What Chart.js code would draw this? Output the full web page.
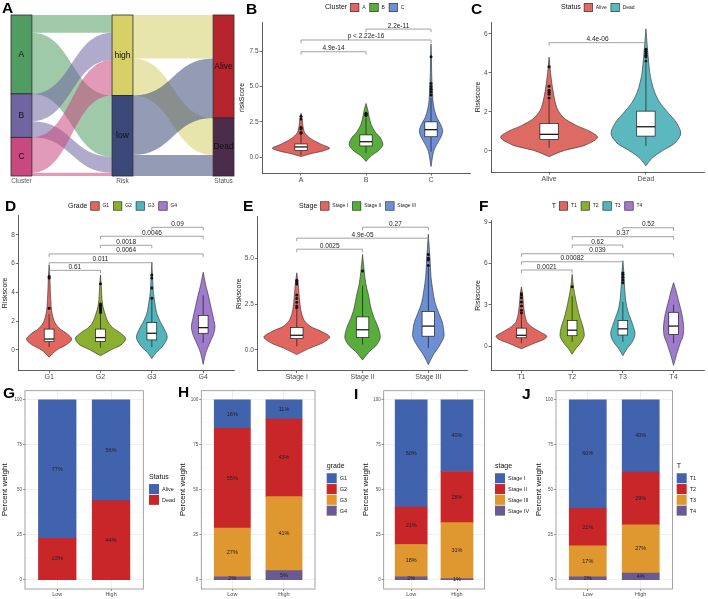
<!DOCTYPE html>
<html>
<head>
<meta charset="utf-8">
<title>Risk score panels</title>
<script src="https://cdn.jsdelivr.net/npm/chart.js@4.4.1/dist/chart.umd.min.js"></script>
<style>
  body { margin: 0; background: #fff; }
  #fig { position: relative; width: 708px; height: 599px; overflow: hidden; background: #fff; }
  #fig canvas { position: absolute; }
  .tag { position: absolute; font: bold 15.5px "Liberation Sans", Arial, sans-serif; line-height: 1; color: #000; z-index: 5; }
</style>
</head>
<body>
<div id="fig">
  <div class="tag" style="left:2px;top:0px">A</div>
  <div class="tag" style="left:246px;top:1px">B</div>
  <div class="tag" style="left:471px;top:1px">C</div>
  <div class="tag" style="left:5px;top:198px">D</div>
  <div class="tag" style="left:243px;top:198px">E</div>
  <div class="tag" style="left:479px;top:198px">F</div>
  <div class="tag" style="left:3px;top:385px">G</div>
  <div class="tag" style="left:178px;top:384px">H</div>
  <div class="tag" style="left:354px;top:386px">I</div>
  <div class="tag" style="left:522px;top:386px">J</div>
</div>
<script>
const FONT = '"Liberation Sans", Arial, sans-serif';
Chart.defaults.font.family = FONT;

// ---- A: alluvial (values in % of patients) ----
const stageNames = ['Cluster', 'Risk', 'Status'];
const clusterNames = ['A', 'B', 'C'];
const riskNames = ['high', 'low'];
const statusNames = ['Alive', 'Dead'];
const clusterToRisk = [[11, 38], [17, 10], [22, 2]];
const riskToStatus = [[27, 23], [37, 13]];
const clusterColors = ['#519c63', '#7065a0', '#c8487f'];
const riskColors = ['#d6d067', '#3b4878'];
const statusColors = ['#b6242d', '#4b2c4b'];

// ---- B: riskScore by cluster ----
const bCats = ['A', 'B', 'C'];
const bColors = ['#e0645f', '#58ad3b', '#6c8fd6'];
const bViolinY = [
  [0.05, 0.25, 0.45, 0.64, 0.9, 1.2, 1.5, 1.8, 2.2, 2.6, 3.1],
  [-0.3, 0.1, 0.5, 0.9, 1.3, 1.8, 2.3, 2.8, 3.3, 3.8],
  [-0.66, -0.2, 0.4, 1.0, 1.5, 1.85, 2.3, 2.8, 3.4, 4.0, 5.0, 6.0, 7.0, 8.0]
];
const bViolinW = [
  [0, 0.15, 0.34, 0.44, 0.32, 0.19, 0.1, 0.05, 0.03, 0.02, 0],
  [0, 0.08, 0.2, 0.26, 0.23, 0.14, 0.08, 0.05, 0.03, 0],
  [0, 0.015, 0.04, 0.1, 0.16, 0.18, 0.15, 0.09, 0.05, 0.03, 0.018, 0.01, 0.007, 0]
];
const bBoxes = [[0.15, 0.47, 0.73, 0.94, 1.6], [0.3, 0.8, 1.1, 1.58, 2.8], [0.4, 1.45, 1.95, 2.5, 4.2]];
const bOutliers = [[1.7, 1.75, 2.0, 2.1, 2.7, 2.9], [2.95, 3.0, 3.05, 3.1], [4.4, 4.6, 4.8, 5.0, 5.2, 7.1]];
const bPairs = [[1, 2], [1, 3], [2, 3]];
const bPvals = ['4.9e-14', 'p < 2.22e-16', '2.2e-11'];
const bLevels = [7.45, 8.28, 9.05];
const bTicks = [0, 2.5, 5, 7.5];

// ---- C: Riskscore by status ----
const cCats = ['Alive', 'Dead'];
const cColors = ['#dd6a63', '#5cb8bf'];
const cViolinY = [
  [-0.3, 0.0, 0.3, 0.7, 1.0, 1.3, 1.7, 2.2, 2.8, 3.4, 4.0, 4.8],
  [-0.77, -0.4, 0, 0.4, 0.9, 1.4, 2.0, 2.5, 3.0, 3.5, 4.0, 5.0, 6.25]
];
const cViolinW = [
  [0, 0.15, 0.38, 0.5, 0.42, 0.28, 0.15, 0.08, 0.05, 0.03, 0.015, 0],
  [0, 0.06, 0.17, 0.3, 0.36, 0.32, 0.22, 0.14, 0.09, 0.06, 0.04, 0.02, 0]
];
const cBoxes = [[0.15, 0.58, 0.84, 1.4, 2.6], [0.25, 0.75, 1.23, 2.03, 4.5]];
const cOutliers = [[2.7, 2.9, 3.0, 3.1, 3.3, 4.3], [4.6, 4.8, 4.9, 5.0, 5.1, 5.2]];
const cPairs = [[1, 2]];
const cPvals = ['4.4e-06'];
const cLevels = [5.54];
const cTicks = [0, 2, 4, 6];

// ---- D: Riskscore by grade ----
const dCats = ['G1', 'G2', 'G3', 'G4'];
const dColors = ['#e0665f', '#8baf2f', '#52b5bd', '#a07bcd'];
const dViolinY = [
  [-0.5, 0, 0.4, 0.75, 1.1, 1.5, 2, 2.5, 3, 4, 5, 5.9],
  [-0.4, 0, 0.4, 0.8, 1.2, 1.6, 2.0, 2.5, 3.0, 3.5, 4.5, 5.2],
  [-0.6, -0.2, 0.3, 0.9, 1.4, 2, 2.5, 3, 3.5, 4, 5, 6.1],
  [-1.0, -0.2, 0.5, 1.2, 1.6, 2.2, 3, 3.8, 4.5, 5.4]
];
const dViolinW = [
  [0, 0.15, 0.35, 0.44, 0.36, 0.2, 0.1, 0.06, 0.04, 0.025, 0.015, 0],
  [0, 0.2, 0.42, 0.49, 0.38, 0.22, 0.14, 0.09, 0.05, 0.03, 0.015, 0],
  [0, 0.08, 0.22, 0.3, 0.25, 0.16, 0.1, 0.07, 0.05, 0.03, 0.015, 0],
  [0, 0.05, 0.13, 0.21, 0.23, 0.2, 0.15, 0.1, 0.05, 0]
];
const dBoxes = [[0.2, 0.58, 0.76, 1.45, 2.5], [0.15, 0.6, 0.86, 1.45, 2.5], [0.2, 0.7, 1.16, 1.9, 3.5], [0.5, 1.16, 1.55, 2.4, 3.8]];
const dOutliers = [[2.9, 5.0, 5.1], [2.6, 2.7, 2.8, 2.9, 3.0, 3.1, 3.2, 4.6], [3.6, 4.3, 5.0, 5.2], []];
const dPairs = [[1, 2], [1, 3], [1, 4], [2, 3], [2, 4], [3, 4]];
const dPvals = ['0.61', '0.011', '0.0064', '0.0018', '0.0046', '0.09'];
const dLevels = [5.53, 6.06, 6.67, 7.27, 7.9, 8.52];
const dTicks = [0, 2, 4, 6, 8];

// ---- E: Riskscore by stage ----
const eCats = ['Stage I', 'Stage II', 'Stage III'];
const eColors = ['#e0665f', '#58ad3b', '#6c8fd6'];
const eViolinY = [
  [-0.25, 0.1, 0.4, 0.7, 1.0, 1.3, 1.7, 2.2, 2.8, 3.5, 4.2],
  [-0.55, -0.1, 0.3, 0.7, 1.2, 1.8, 2.4, 3.0, 3.6, 4.3, 5.2],
  [-0.8, -0.3, 0.3, 0.8, 1.4, 2.0, 2.6, 3.2, 4, 5, 6.3]
];
const eViolinW = [
  [0, 0.2, 0.4, 0.5, 0.38, 0.2, 0.1, 0.06, 0.04, 0.025, 0],
  [0, 0.1, 0.22, 0.27, 0.24, 0.17, 0.12, 0.09, 0.05, 0.025, 0],
  [0, 0.07, 0.18, 0.24, 0.22, 0.16, 0.1, 0.07, 0.04, 0.025, 0]
];
const eBoxes = [[0.2, 0.62, 0.8, 1.22, 2.2], [0.3, 0.68, 1.1, 1.8, 3.5], [0.1, 0.75, 1.3, 2.1, 4.5]];
const eOutliers = [[2.3, 2.4, 2.6, 2.8, 3.0, 3.6, 3.7, 3.8], [4.3], [4.6, 4.9, 5.0, 5.2]];
const ePairs = [[1, 2], [1, 3], [2, 3]];
const ePvals = ['0.0025', '4.9e-05', '0.27'];
const eLevels = [5.49, 6.09, 6.69];
const eTicks = [0, 2.5, 5];

// ---- F: Riskscore by T ----
const fCats = ['T1', 'T2', 'T3', 'T4'];
const fColors = ['#e0665f', '#8baf2f', '#52b5bd', '#a07bcd'];
const fViolinY = [
  [-0.2, 0.2, 0.5, 0.7, 1.0, 1.4, 1.8, 2.4, 3.0, 3.7, 4.3],
  [-0.6, -0.2, 0.3, 0.8, 1.3, 2, 2.7, 3.4, 4.2, 5.2],
  [-0.7, -0.2, 0.4, 0.9, 1.5, 2.2, 2.8, 3.5, 4.5, 5.3, 6.2],
  [-1.4, -0.6, 0.2, 0.8, 1.3, 2, 2.7, 3.4, 4.0, 4.6]
];
const fViolinW = [
  [0, 0.25, 0.45, 0.5, 0.38, 0.2, 0.1, 0.06, 0.04, 0.025, 0],
  [0, 0.07, 0.18, 0.24, 0.22, 0.16, 0.11, 0.07, 0.03, 0],
  [0, 0.08, 0.2, 0.24, 0.2, 0.13, 0.08, 0.05, 0.03, 0.02, 0],
  [0, 0.06, 0.13, 0.19, 0.2, 0.18, 0.14, 0.09, 0.05, 0]
];
const fBoxes = [[0.2, 0.6, 0.78, 1.3, 2.3], [0.3, 0.75, 1.15, 1.85, 3.6], [0.3, 0.8, 1.25, 1.85, 3.2], [0.2, 0.85, 1.45, 2.45, 3.0]];
const fOutliers = [[2.4, 2.6, 2.9, 3.2, 3.5, 3.7, 3.8], [4.3], [4.6, 4.8, 5.0, 5.2, 5.3], []];
const fPairs = [[1, 2], [1, 3], [1, 4], [2, 3], [2, 4], [3, 4]];
const fPvals = ['0.0021', '0.00082', '0.039', '0.62', '0.37', '0.52'];
const fLevels = [5.52, 6.12, 6.7, 7.33, 7.94, 8.59];
const fTicks = [0, 3, 6, 9];

// ---- G-J: percent stacked bars, series listed top to bottom, values [Low, High] ----
const riskGroups = ['Low', 'High'];
const gNames = ['Alive', 'Dead'];
const gPct = [[76.9, 56.0], [23.1, 44.0]];
const hNames = ['G1', 'G2', 'G3', 'G4'];
const hPct = [[15.9, 10.7], [55.3, 43.1], [27.0, 41.0], [1.8, 5.2]];
const iNames = ['Stage I', 'Stage II', 'Stage III', 'Stage IV'];
const iPct = [[59.5, 39.8], [20.8, 28.4], [17.9, 31.0], [1.8, 0.8]];
const jNames = ['T1', 'T2', 'T3', 'T4'];
const jPct = [[60.2, 40.2], [20.9, 29.2], [17.1, 26.8], [1.8, 3.8]];
const pctTicks = [0, 25, 50, 75, 100];
const pctMinor = [12.5, 37.5, 62.5, 87.5];
const stackColors = ['#4163ae', '#c9262a', '#df972f', '#6a5a92'];

const fig = document.getElementById('fig');

function addCanvas(l, t, w, h) {
  const c = document.createElement('canvas');
  c.width = w; c.height = h;
  c.style.left = l + 'px'; c.style.top = t + 'px';
  c.style.width = w + 'px'; c.style.height = h + 'px';
  fig.appendChild(c);
  return c;
}

function hexA(hex, a) {
  const n = parseInt(hex.slice(1), 16);
  return `rgba(${n >> 16},${(n >> 8) & 255},${n & 255},${a})`;
}

const baseOpts = { responsive: false, animation: false, devicePixelRatio: 1, events: [] };
const noPlugins = { legend: { display: false }, tooltip: { enabled: false } };

// ---------- A ----------
const HW = 0.1034; // stratum half width in axis units

const alluvialPlugin = {
  id: 'alluvial',
  beforeDatasetsDraw(chart) {
    const { ctx, scales: { x, y } } = chart;
    const Y = v => y.getPixelForValue(100 - v);
    const rowSums = m => m.map(r => r.reduce((a, b) => a + b, 0));
    const colSums = m => m[0].map((_, j) => m.reduce((a, r) => a + r[j], 0));
    const starts = arr => { let acc = 0; return arr.map(v => { const s = acc; acc += v; return s; }); };
    const strata = [rowSums(clusterToRisk), colSums(clusterToRisk), colSums(riskToStatus)];
    const names = [clusterNames, riskNames, statusNames];
    const cols = [clusterColors, riskColors, statusColors];
    ctx.save();
    [clusterToRisk, riskToStatus].forEach((m, xi) => {
      const sOff = starts(strata[xi]), tOff = starts(strata[xi + 1]);
      const x0 = x.getPixelForValue(xi + HW), x1 = x.getPixelForValue(xi + 1 - HW), xm = (x0 + x1) / 2;
      m.forEach((row, s) => row.forEach((v, t) => {
        if (!v) return;
        const a0 = sOff[s], b0 = tOff[t];
        sOff[s] += v; tOff[t] += v;
        const a1 = sOff[s], b1 = tOff[t];
        ctx.beginPath();
        ctx.moveTo(x0, Y(a0));
        ctx.bezierCurveTo(xm, Y(a0), xm, Y(b0), x1, Y(b0));
        ctx.lineTo(x1, Y(b1));
        ctx.bezierCurveTo(xm, Y(b1), xm, Y(a1), x0, Y(a1));
        ctx.closePath();
        ctx.fillStyle = hexA(cols[xi][s], 0.55);
        ctx.fill();
      }));
    });
    ctx.font = '8.5px ' + FONT;
    ctx.textAlign = 'center';
    ctx.textBaseline = 'middle';
    strata.forEach((tot, xi) => {
      let acc = 0;
      const l = x.getPixelForValue(xi - HW), r = x.getPixelForValue(xi + HW);
      tot.forEach((v, k) => {
        const t = Y(acc), b = Y(acc + v);
        ctx.fillStyle = cols[xi][k];
        ctx.fillRect(l, t, r - l, b - t);
        ctx.strokeStyle = '#2b2b2b';
        ctx.lineWidth = 0.8;
        ctx.strokeRect(l, t, r - l, b - t);
        ctx.fillStyle = '#111';
        ctx.fillText(names[xi][k], (l + r) / 2, (t + b) / 2);
        acc += v;
      });
    });
    ctx.restore();
  }
};

new Chart(addCanvas(0, 0, 238, 195), {
  type: 'scatter',
  data: { datasets: [] },
  options: {
    ...baseOpts,
    layout: { padding: { left: 11, top: 15, right: 4, bottom: 0 } },
    plugins: noPlugins,
    scales: {
      x: {
        type: 'linear', min: -HW, max: 2 + HW,
        afterBuildTicks: s => { s.ticks = stageNames.map((n, i) => ({ value: i })); },
        afterFit: s => { s.height = 19; },
        ticks: { callback: v => stageNames[Math.round(v)], font: { size: 6.5 }, color: '#555', padding: 1, maxRotation: 0, autoSkip: false },
        grid: { display: false, drawTicks: false, tickLength: 0 }, border: { display: false }
      },
      y: { display: false, min: 0, max: 100 }
    }
  },
  plugins: [alluvialPlugin]
});

// ---------- violins B-F ----------
function violinPath(ctx, ys, ws, X, Y) {
  const n = ys.length, d = [], m = [];
  for (let k = 0; k < n - 1; k++) d.push((ws[k + 1] - ws[k]) / (ys[k + 1] - ys[k]));
  for (let k = 0; k < n; k++) {
    if (k === 0) m.push(d[0]);
    else if (k === n - 1) m.push(d[n - 2]);
    else m.push(d[k - 1] * d[k] <= 0 ? 0 : 2 / (1 / d[k - 1] + 1 / d[k]));
  }
  ctx.beginPath();
  ctx.moveTo(X(ws[0]), Y(ys[0]));
  for (let k = 0; k < n - 1; k++) {
    const h = (ys[k + 1] - ys[k]) / 3;
    ctx.bezierCurveTo(X(ws[k] + m[k] * h), Y(ys[k] + h), X(ws[k + 1] - m[k + 1] * h), Y(ys[k + 1] - h), X(ws[k + 1]), Y(ys[k + 1]));
  }
  for (let k = n - 1; k > 0; k--) {
    const h = (ys[k] - ys[k - 1]) / 3;
    ctx.bezierCurveTo(X(-(ws[k] - m[k] * h)), Y(ys[k] - h), X(-(ws[k - 1] + m[k - 1] * h)), Y(ys[k - 1] + h), X(-ws[k - 1]), Y(ys[k - 1]));
  }
  ctx.closePath();
}

function drawTopLegend(ctx, title, names, colors, x0, yc) {
  ctx.save();
  ctx.textBaseline = 'middle';
  ctx.textAlign = 'left';
  ctx.fillStyle = '#111';
  ctx.font = '7px ' + FONT;
  ctx.fillText(title, x0, yc);
  let x = x0 + ctx.measureText(title).width + 3;
  ctx.font = '5px ' + FONT;
  names.forEach((nm, k) => {
    ctx.fillStyle = colors[k];
    ctx.fillRect(x, yc - 4.5, 9, 9);
    ctx.strokeStyle = '#333';
    ctx.lineWidth = 0.6;
    ctx.strokeRect(x + 0.3, yc - 4.2, 8.4, 8.4);
    ctx.fillStyle = '#222';
    ctx.fillText(nm, x + 12, yc);
    x += 12 + ctx.measureText(nm).width + 4;
  });
  ctx.restore();
}

function violinPlugin(o) {
  return {
    id: 'violins',
    beforeDatasetsDraw(chart) {
      const { ctx, scales: { x, y } } = chart;
      const unit = x.getPixelForValue(2) - x.getPixelForValue(1);
      const Y = v => y.getPixelForValue(v);
      ctx.save();
      o.vy.forEach((ys, i) => {
        const cx = x.getPixelForValue(i + 1);
        violinPath(ctx, ys, o.vw[i], w => cx + w * unit, Y);
        ctx.fillStyle = o.colors[i];
        ctx.fill();
        ctx.strokeStyle = '#2a2a2a';
        ctx.lineWidth = 0.6;
        ctx.stroke();
        const [lo, q1, md, q3, hi] = o.boxes[i];
        const bw = 0.095 * unit;
        ctx.strokeStyle = '#1a1a1a';
        ctx.lineWidth = 0.7;
        ctx.beginPath();
        ctx.moveTo(cx, Y(lo)); ctx.lineTo(cx, Y(q1));
        ctx.moveTo(cx, Y(q3)); ctx.lineTo(cx, Y(hi));
        ctx.stroke();
        ctx.fillStyle = '#fff';
        ctx.fillRect(cx - bw, Y(q3), 2 * bw, Y(q1) - Y(q3));
        ctx.strokeRect(cx - bw, Y(q3), 2 * bw, Y(q1) - Y(q3));
        ctx.lineWidth = 1.3;
        ctx.beginPath();
        ctx.moveTo(cx - bw, Y(md)); ctx.lineTo(cx + bw, Y(md));
        ctx.stroke();
      });
      ctx.restore();
    },
    afterDraw(chart) {
      const { ctx, scales: { x, y } } = chart;
      ctx.save();
      o.pairs.forEach(([a, b], k) => {
        const x1 = x.getPixelForValue(a), x2 = x.getPixelForValue(b), yp = y.getPixelForValue(o.levels[k]);
        ctx.beginPath();
        ctx.moveTo(x1, yp + 3); ctx.lineTo(x1, yp); ctx.lineTo(x2, yp); ctx.lineTo(x2, yp + 3);
        ctx.strokeStyle = '#8a8a8a';
        ctx.lineWidth = 0.8;
        ctx.stroke();
        ctx.fillStyle = '#222';
        ctx.font = '6.5px ' + FONT;
        ctx.textAlign = 'center';
        ctx.textBaseline = 'alphabetic';
        ctx.fillText(o.pvals[k], (x1 + x2) / 2, yp - 1.5);
      });
      ctx.restore();
      drawTopLegend(ctx, o.legTitle, o.cats, o.colors, o.legX - o.box[0], o.legY - o.box[1]);
    }
  };
}

function violinChart(o) {
  const [L, T, W, H] = o.box;
  const n = o.cats.length;
  new Chart(addCanvas(L, T, W, H), {
    type: 'scatter',
    data: {
      datasets: o.outliers.map((arr, i) => ({
        data: arr.map(v => ({ x: i + 1, y: v })),
        pointRadius: 1.5, pointBackgroundColor: '#111', pointBorderWidth: 0
      }))
    },
    options: {
      ...baseOpts,
      layout: { padding: { left: 0, top: o.padT, right: o.padR, bottom: 0 } },
      plugins: noPlugins,
      scales: {
        x: {
          type: 'linear', min: 0.4, max: n + 0.6,
          afterBuildTicks: s => { s.ticks = o.cats.map((c, i) => ({ value: i + 1 })); },
          afterFit: s => { s.height = o.xh; },
          ticks: { callback: v => o.cats[Math.round(v) - 1], font: { size: 7 }, color: '#4d4d4d', padding: 0, maxRotation: 0, autoSkip: false },
          grid: { drawOnChartArea: false, tickLength: 2.5, color: '#333', lineWidth: 0.7 },
          border: { color: '#333', width: 0.8 }
        },
        y: {
          min: o.ymin, max: o.ymax,
          afterBuildTicks: s => { s.ticks = o.yticks.map(v => ({ value: v })); },
          afterFit: s => { s.width = o.yw; },
          ticks: { callback: o.yfmt, font: { size: 6.5 }, color: '#4d4d4d', padding: 1, autoSkip: false },
          grid: { drawOnChartArea: false, tickLength: 2.5, color: '#333', lineWidth: 0.7 },
          border: { color: '#333', width: 0.8 },
          title: { display: true, text: o.ytitle, font: { size: 7 }, color: '#111', padding: 0 }
        }
      }
    },
    plugins: [violinPlugin(o)]
  });
}

const fmt1 = v => v.toFixed(1);
const fmt0 = v => String(v);

violinChart({ box: [238, 0, 236, 195], padT: 22, padR: 2.4, yw: 24, xh: 22, ymin: -1.11, ymax: 9.55,
  yticks: bTicks, yfmt: fmt1, ytitle: 'riskScore', cats: bCats, colors: bColors, vy: bViolinY, vw: bViolinW,
  boxes: bBoxes, outliers: bOutliers, pairs: bPairs, pvals: bPvals, levels: bLevels, legTitle: 'Cluster', legX: 325, legY: 7.5 });
violinChart({ box: [474, 0, 234, 195], padT: 22, padR: 1.7, yw: 17, xh: 23, ymin: -1.09, ymax: 6.6,
  yticks: cTicks, yfmt: fmt0, ytitle: 'Riskscore', cats: cCats, colors: cColors, vy: cViolinY, vw: cViolinW,
  boxes: cBoxes, outliers: cOutliers, pairs: cPairs, pvals: cPvals, levels: cLevels, legTitle: 'Status', legX: 561, legY: 7.5 });
violinChart({ box: [1, 195, 237, 195], padT: 20, padR: 4, yw: 17.3, xh: 19.3, ymin: -1.44, ymax: 9.375,
  yticks: dTicks, yfmt: fmt0, ytitle: 'Riskscore', cats: dCats, colors: dColors, vy: dViolinY, vw: dViolinW,
  boxes: dBoxes, outliers: dOutliers, pairs: dPairs, pvals: dPvals, levels: dLevels, legTitle: 'Grade', legX: 68, legY: 206 });
violinChart({ box: [235, 195, 239, 195], padT: 21.7, padR: 6.2, yw: 22.3, xh: 19.3, ymin: -1.13, ymax: 7.26,
  yticks: eTicks, yfmt: fmt1, ytitle: 'Riskscore', cats: eCats, colors: eColors, vy: eViolinY, vw: eViolinW,
  boxes: eBoxes, outliers: eOutliers, pairs: ePairs, pvals: ePvals, levels: eLevels, legTitle: 'Stage', legX: 299, legY: 206 });
violinChart({ box: [474, 195, 234, 195], padT: 25, padR: 2, yw: 17, xh: 19.3, ymin: -1.79, ymax: 9.15,
  yticks: fTicks, yfmt: fmt0, ytitle: 'Riskscore', cats: fCats, colors: fColors, vy: fViolinY, vw: fViolinW,
  boxes: fBoxes, outliers: fOutliers, pairs: fPairs, pvals: fPvals, levels: fLevels, legTitle: 'T', legX: 551.7, legY: 206 });

// ---------- stacked bars G-J ----------
function stackPlugin(o) {
  return {
    id: 'stackDecor',
    afterDatasetsDraw(chart) {
      const { ctx } = chart;
      ctx.save();
      ctx.font = '5.5px ' + FONT;
      ctx.fillStyle = '#222';
      ctx.textAlign = 'center';
      ctx.textBaseline = 'middle';
      chart.data.datasets.forEach((ds, di) => {
        chart.getDatasetMeta(di).data.forEach((el, i) => {
          ctx.fillText(Math.round(ds.data[i].y) + '%', el.x, (el.y + el.base) / 2);
        });
      });
      ctx.restore();
    },
    afterDraw(chart) {
      const { ctx, chartArea: a } = chart;
      ctx.save();
      ctx.strokeStyle = '#8c8c8c';
      ctx.lineWidth = 0.8;
      ctx.strokeRect(a.left, a.top, a.right - a.left, a.bottom - a.top);
      const step = 10.8;
      const yc = (a.top + a.bottom) / 2;
      const top = yc - o.names.length * step / 2 + 5;
      const x0 = o.legX - o.box[0];
      ctx.textBaseline = 'middle';
      ctx.textAlign = 'left';
      ctx.fillStyle = '#111';
      ctx.font = '7px ' + FONT;
      ctx.fillText(o.legTitle, x0, top - 7);
      ctx.font = '5.5px ' + FONT;
      o.names.forEach((nm, k) => {
        const yy = top + k * step;
        ctx.fillStyle = stackColors[k];
        ctx.fillRect(x0, yy, 10, step - 0.8);
        ctx.fillStyle = '#222';
        ctx.fillText(nm, x0 + 13, yy + step / 2);
      });
      ctx.restore();
    }
  };
}

function stackChart(o) {
  const [L, T, W, H] = o.box;
  const plotW = W - o.yw - o.padR;
  const barW = plotW / 2.2 * 0.7;
  const order = o.names.map((_, k) => k).reverse();
  const yGrid = pctTicks.concat(pctMinor);
  new Chart(addCanvas(L, T, W, H), {
    type: 'bar',
    data: {
      datasets: order.map(k => ({
        label: o.names[k],
        data: o.pct[k].map((v, i) => ({ x: i + 1, y: v })),
        backgroundColor: stackColors[k],
        borderWidth: 0,
        barThickness: barW
      }))
    },
    options: {
      ...baseOpts,
      layout: { padding: { left: 0, top: 4.7, right: o.padR, bottom: 0 } },
      plugins: noPlugins,
      scales: {
        x: {
          type: 'linear', stacked: true, min: 0.4, max: 2.6, offset: false,
          afterBuildTicks: s => { s.ticks = riskGroups.map((g, i) => ({ value: i + 1 })); },
          afterFit: s => { s.height = 10; },
          ticks: { callback: v => riskGroups[Math.round(v) - 1], font: { size: 5.5 }, color: '#4d4d4d', padding: 0, maxRotation: 0, autoSkip: false },
          grid: { offset: false, color: '#ebebeb', lineWidth: 0.8, tickLength: 2, tickColor: '#444', tickWidth: 0.6 },
          border: { display: false }
        },
        y: {
          stacked: true, min: -5, max: 105,
          afterBuildTicks: s => { s.ticks = yGrid.map(v => ({ value: v })); },
          afterFit: s => { s.width = o.yw; },
          ticks: { callback: v => pctTicks.includes(v) ? String(v) : '', font: { size: 4.5 }, color: '#4d4d4d', padding: 1, autoSkip: false },
          grid: {
            color: c => pctTicks.includes(c.tick.value) ? '#ebebeb' : '#f5f5f5',
            lineWidth: c => pctTicks.includes(c.tick.value) ? 0.8 : 0.5,
            tickLength: 2,
            tickColor: c => pctTicks.includes(c.tick.value) ? '#444' : 'rgba(0,0,0,0)',
            tickWidth: 0.6
          },
          border: { display: false },
          title: { display: true, text: 'Percent weight', font: { size: 8 }, color: '#111', padding: 0 }
        }
      }
    },
    plugins: [stackPlugin(o)]
  });
}

stackChart({ box: [0, 386, 178, 213], yw: 25, padR: 34.7, names: gNames, pct: gPct, legTitle: 'Status', legX: 149 });
stackChart({ box: [178, 386, 183, 213], yw: 23.3, padR: 46, names: hNames, pct: hPct, legTitle: 'grade', legX: 326.7 });
stackChart({ box: [361, 386, 173, 213], yw: 22.7, padR: 49.5, names: iNames, pct: iPct, legTitle: 'stage', legX: 495 });
stackChart({ box: [534, 386, 174, 213], yw: 22, padR: 35.5, names: jNames, pct: jPct, legTitle: 'T', legX: 676.7 });
</script>
</body>
</html>
